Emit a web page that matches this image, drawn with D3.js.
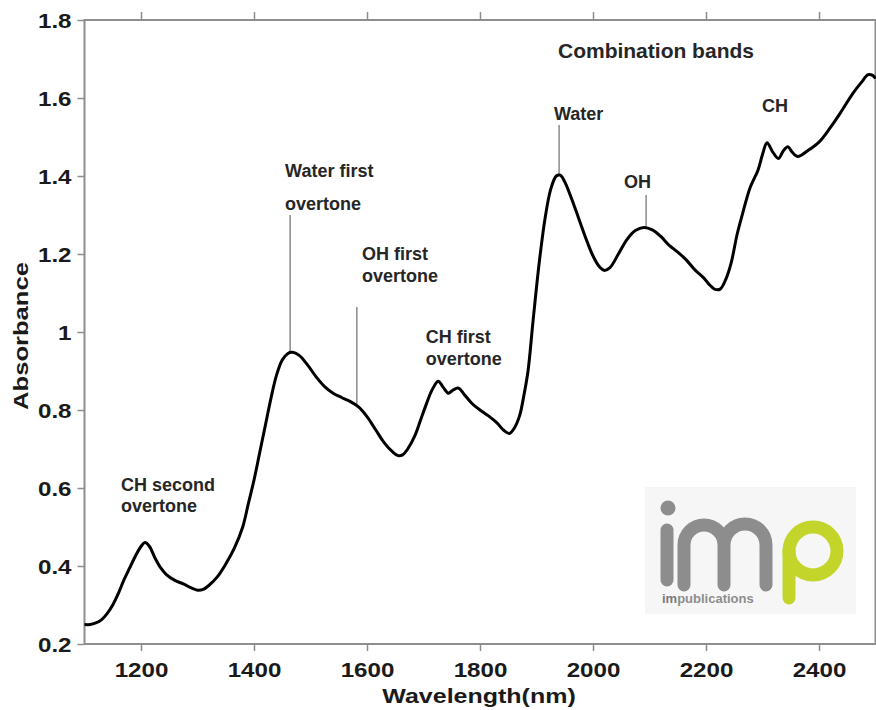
<!DOCTYPE html>
<html>
<head>
<meta charset="utf-8">
<script src="https://cdn.jsdelivr.net/npm/d3@7/dist/d3.min.js"></script>
<style>
  html, body { margin: 0; padding: 0; background: #fff; }
  svg { display: block; }
  text { font-family: "Liberation Sans", Arial, Helvetica, sans-serif; font-weight: bold; }
</style>
</head>
<body>
<svg id="chart" width="876" height="710"></svg>
<script>
// ---- data ----
const wavelength = [1100,1110,1120,1130,1140,1150,1160,1170,1180,1190,1200,1207,1215,1225,1235,1245,1260,1275,1290,1300,1310,1320,1335,1350,1365,1380,1390,1400,1410,1420,1430,1440,1450,1460,1468,1480,1495,1510,1525,1540,1555,1570,1585,1600,1615,1630,1645,1655,1663,1672,1685,1695,1705,1715,1726,1735,1744,1752,1762,1772,1785,1800,1815,1830,1842,1852,1860,1870,1878,1885,1894,1905,1915,1925,1935,1942,1950,1960,1975,1990,2000,2010,2020,2030,2045,2060,2075,2090,2105,2120,2135,2150,2165,2180,2195,2207,2215,2225,2235,2245,2255,2265,2278,2292,2300,2308,2318,2328,2337,2345,2352,2362,2380,2400,2418,2437,2460,2475,2487,2495,2500];
const absorbance = [0.250,0.250,0.254,0.262,0.278,0.300,0.330,0.365,0.395,0.425,0.450,0.460,0.450,0.420,0.395,0.378,0.363,0.354,0.343,0.338,0.340,0.350,0.372,0.405,0.445,0.500,0.560,0.620,0.690,0.760,0.830,0.890,0.928,0.945,0.948,0.940,0.915,0.885,0.860,0.843,0.832,0.822,0.808,0.783,0.750,0.717,0.693,0.683,0.685,0.700,0.735,0.775,0.815,0.851,0.874,0.858,0.843,0.851,0.856,0.840,0.818,0.800,0.785,0.767,0.748,0.740,0.752,0.785,0.840,0.900,1.030,1.180,1.290,1.365,1.400,1.402,1.385,1.350,1.290,1.230,1.195,1.170,1.158,1.165,1.200,1.237,1.260,1.268,1.262,1.245,1.222,1.205,1.185,1.160,1.140,1.120,1.110,1.110,1.135,1.180,1.250,1.305,1.370,1.415,1.455,1.485,1.462,1.445,1.465,1.475,1.462,1.450,1.465,1.487,1.520,1.560,1.612,1.640,1.660,1.658,1.650];

const xTicks = [1200,1400,1600,1800,2000,2200,2400];
const yTicks = [0.2,0.4,0.6,0.8,1.0,1.2,1.4,1.6,1.8];
const yTickLabels = ["0.2","0.4","0.6","0.8","1","1.2","1.4","1.6","1.8"];

// annotation labels: [lines], anchor in data units (wavelength, absorbance)
const annoText = [["CH second","overtone"],["Water first","overtone"],["OH first","overtone"],["CH first","overtone"],["Water"],["OH"],["CH"],["Combination bands"]];
const annoWl   = [1164.5, 1455, 1591, 1704, 1931, 2055, 2299, 1938];
const annoAbs  = [0.592, 1.397, 1.185, 0.972, 1.544, 1.369, 1.564, 1.703];
// pointer lines: wavelength, from absorbance, to absorbance
const lineWl   = [1464, 1582, 1940, 2094];
const lineTop  = [1.300, 1.064, 1.531, 1.351];
const lineBot  = [0.949, 0.808, 1.403, 1.270];

// ---- layout ----
const svg = d3.select("#chart");
const x = d3.scaleLinear().domain([1100, 2500]).range([84.5, 875.5]);
const y = d3.scaleLinear().domain([0.2, 1.8]).range([644, 20]);
const frameColor = "#8e8e8e";

// frame
const g = svg.append("g");
g.append("rect").attr("x", x(1100)).attr("y", y(1.8))
  .attr("width", x(2500) - x(1100)).attr("height", y(0.2) - y(1.8))
  .attr("fill", "none").attr("stroke", frameColor).attr("stroke-width", 2);

// bottom axis
const ax = svg.append("g").attr("transform", `translate(0,${y(0.2)})`)
  .call(d3.axisBottom(x).tickValues(xTicks).tickSize(7).tickPadding(11).tickFormat(d3.format("d")));
ax.select(".domain").remove();
ax.selectAll("line").attr("stroke", frameColor).attr("stroke-width", 1.5);
ax.selectAll("text").attr("font-size", 21).attr("fill", "#1a1a1a")
  .attr("font-family", "Liberation Sans, Arial, sans-serif").attr("font-weight", "bold")
  .attr("transform", "scale(1.15,1)");

// top axis (ticks only)
const axT = svg.append("g").attr("transform", `translate(0,${y(1.8)})`)
  .call(d3.axisTop(x).tickValues(xTicks).tickSize(8).tickFormat(""));
axT.select(".domain").remove();
axT.selectAll("line").attr("stroke", frameColor).attr("stroke-width", 1.5);

// left axis
const ay = svg.append("g").attr("transform", `translate(${x(1100)},0)`)
  .call(d3.axisLeft(y).tickValues(yTicks).tickSize(7).tickFormat((d, i) => yTickLabels[i]));
ay.select(".domain").remove();
ay.selectAll("line").attr("stroke", frameColor).attr("stroke-width", 1.5);
ay.selectAll("text").attr("font-size", 21).attr("fill", "#1a1a1a")
  .attr("font-family", "Liberation Sans, Arial, sans-serif").attr("font-weight", "bold")
  .attr("x", -13 / 1.15).attr("dy", "0.36em")
  .attr("transform", "scale(1.15,1)");

// axis titles
svg.append("text").attr("transform", "translate(479,703) scale(1.19,1)")
  .attr("text-anchor", "middle").attr("font-size", 21).attr("fill", "#1a1a1a")
  .text("Wavelength(nm)");
svg.append("text").attr("transform", "translate(28,336) rotate(-90) scale(1.22,1)")
  .attr("text-anchor", "middle").attr("font-size", 21).attr("fill", "#1a1a1a")
  .text("Absorbance");

// logo (impublications)
const logo = svg.append("g");
logo.append("rect").attr("x", 645).attr("y", 487).attr("width", 211).attr("height", 127).attr("fill", "#f6f6f6");
const grey = "#8d8d8d", lime = "#c3d52a";
logo.append("circle").attr("cx", 668).attr("cy", 508).attr("r", 7.5).attr("fill", grey);
logo.append("line").attr("x1", 667).attr("y1", 530).attr("x2", 667).attr("y2", 580)
  .attr("stroke", grey).attr("stroke-width", 13).attr("stroke-linecap", "round");
logo.append("path")
  .attr("d", "M684,585 L684,545 A20,20 0 0 1 724,545 L724,585 M724,545 A21,21 0 0 1 766,545 L766,585")
  .attr("fill", "none").attr("stroke", grey).attr("stroke-width", 13).attr("stroke-linecap", "round");
logo.append("circle").attr("cx", 813).attr("cy", 551).attr("r", 24)
  .attr("fill", "none").attr("stroke", lime).attr("stroke-width", 13);
logo.append("line").attr("x1", 789).attr("y1", 551).attr("x2", 789).attr("y2", 598)
  .attr("stroke", lime).attr("stroke-width", 13).attr("stroke-linecap", "round");
const lt = logo.append("text").attr("x", 662).attr("y", 603).attr("font-size", 13)
  .attr("font-weight", "normal").attr("fill", grey);
lt.append("tspan").attr("font-weight", "bold").attr("fill", "#7a7a7a").text("im");
lt.append("tspan").text("publications");

// annotation pointer lines
svg.append("g").selectAll("line").data(lineWl).join("line")
  .attr("x1", d => x(d)).attr("x2", d => x(d))
  .attr("y1", (d, i) => y(lineTop[i])).attr("y2", (d, i) => y(lineBot[i]))
  .attr("stroke", "#8a8a8a").attr("stroke-width", 1.5);

// spectrum
const line = d3.line().x((d, i) => x(wavelength[i])).y(d => y(d)).curve(d3.curveCatmullRom.alpha(0.5));
svg.append("path").datum(absorbance).attr("d", line)
  .attr("fill", "none").attr("stroke", "#000").attr("stroke-width", 3)
  .attr("stroke-linejoin", "round");

// annotation text
const lineGap = [21, 33, 22, 22, 0, 0, 0, 0];
const annoSize = [18, 18, 18, 18, 18, 18, 18, 21];
annoText.forEach((lines, i) => {
  const t = svg.append("text").attr("x", x(annoWl[i])).attr("y", y(annoAbs[i]))
    .attr("font-size", annoSize[i]).attr("fill", "#262626");
  lines.forEach((s, k) => {
    t.append("tspan").attr("x", x(annoWl[i])).attr("dy", k === 0 ? 0 : lineGap[i]).text(s);
  });
});
</script>
</body>
</html>
